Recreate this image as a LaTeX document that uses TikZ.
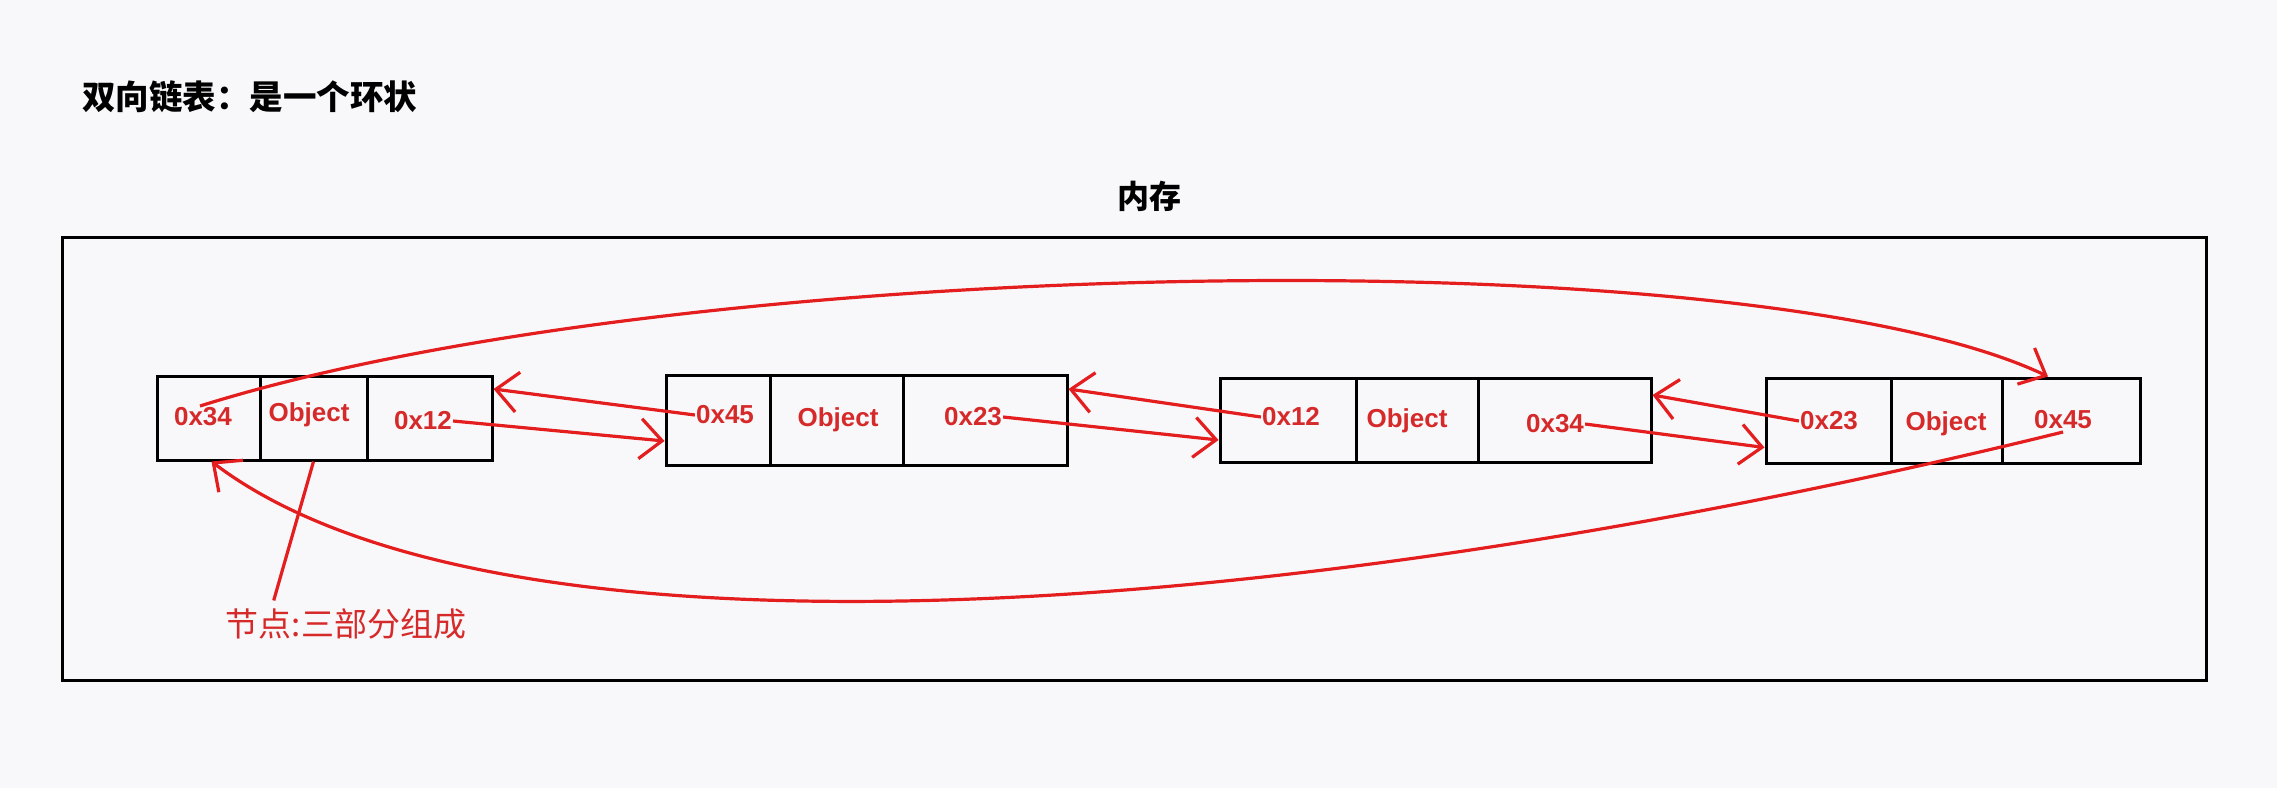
\documentclass[tikz,border=0pt]{standalone}
\usepackage{fontspec}
\setmainfont{Liberation Sans}
\newfontfamily\cjk{Noto Sans CJK SC}
\usetikzlibrary{arrows.meta}
\definecolor{bg}{RGB}{248,248,250}
\definecolor{lred}{RGB}{228,30,30}
\definecolor{tred}{RGB}{214,42,42}
\begin{document}
\begin{tikzpicture}[x=1pt,y=-1pt,
  cell/.style={draw=black, line width=3pt, inner sep=0pt},
  txt/.style={text=tred, font=\fontsize{26}{28}\selectfont\bfseries, inner sep=1pt},
  arr/.style={draw=lred, line width=3.2pt, -{Straight Barb[length=22pt,width=40pt,line width=3.2pt]}},
  plain/.style={draw=lred, line width=3.2pt}]
\useasboundingbox (0,0) rectangle (2277,788);
\fill[bg] (0,0) rectangle (2277,788);
% titles
\node[font=\cjk\bfseries\fontsize{33.5}{35}\selectfont, anchor=west, inner sep=0pt] (title) at (82,97) {双向链表：是一个环状};
\node[font=\cjk\bfseries\fontsize{32}{34}\selectfont, inner sep=0pt] (mem) at (1149,196) {内存};
% memory frame
\node[draw=black, line width=3pt, minimum width=2144pt, minimum height=443pt, inner sep=0pt] (frame) at (1134,458.5) {};
% node 1
\node[cell, minimum width=103pt, minimum height=84pt] (c11) at (208.5,418) {};
\node[cell, minimum width=107pt, minimum height=84pt] (c12) at (313.5,418) {};
\node[cell, minimum width=125pt, minimum height=84pt] (c13) at (429.5,418) {};
% node 2
\node[cell, minimum width=104pt, minimum height=90pt] (c21) at (718,420) {};
\node[cell, minimum width=133pt, minimum height=90pt] (c22) at (836.5,420) {};
\node[cell, minimum width=164pt, minimum height=90pt] (c23) at (985,420) {};
% node 3
\node[cell, minimum width=136pt, minimum height=84pt] (c31) at (1288,420) {};
\node[cell, minimum width=122pt, minimum height=84pt] (c32) at (1417,420) {};
\node[cell, minimum width=173pt, minimum height=84pt] (c33) at (1564.5,420) {};
% node 4
\node[cell, minimum width=125pt, minimum height=85pt] (c41) at (1828.5,420.5) {};
\node[cell, minimum width=111pt, minimum height=85pt] (c42) at (1946.5,420.5) {};
\node[cell, minimum width=138pt, minimum height=85pt] (c43) at (2071,420.5) {};
% texts
\node[txt] (t11) at (203,417) {0x34};
\node[txt] (t12) at (309,415) {Object};
\node[txt] (t13) at (423,421) {0x12};
\node[txt] (t21) at (725,415) {0x45};
\node[txt] (t22) at (838,420) {Object};
\node[txt] (t23) at (973,417) {0x23};
\node[txt] (t31) at (1291,417) {0x12};
\node[txt] (t32) at (1407,421) {Object};
\node[txt] (t33) at (1555,424) {0x34};
\node[txt] (t41) at (1829,421) {0x23};
\node[txt] (t42) at (1946,424) {Object};
\node[txt] (t43) at (2063,420) {0x45};
% label
\node[text=tred, font=\cjk\fontsize{33}{35}\selectfont, inner sep=0pt] (lab) at (346,624) {节点:三部分组成};
% neighbour links
\draw[arr] (t13.east) -- ([yshift=-21pt]c21.west);
\draw[arr] (t21.west) -- ([yshift=29pt]c13.east);
\draw[arr] (t23.east) -- ([yshift=-20pt]c31.west);
\draw[arr] (t31.west) -- ([yshift=31pt]c23.east);
\draw[arr] (t33.east) -- ([yshift=-27pt]c41.west);
\draw[arr] (t41.west) -- ([yshift=25pt]c33.east);
% ring links
\draw[arr] ([xshift=-3pt,yshift=11pt]t11.center) .. controls (680,255) and (1750,235) .. ([xshift=-23pt]c43.north);
\draw[arr] ([yshift=-12pt]t43.center) .. controls (1300,620) and (500,680) .. ([xshift=3pt]c11.south);
% pointer
\draw[plain] ([xshift=48pt,yshift=8pt]lab.north west) -- (c12.south);
\end{tikzpicture}
\end{document}
